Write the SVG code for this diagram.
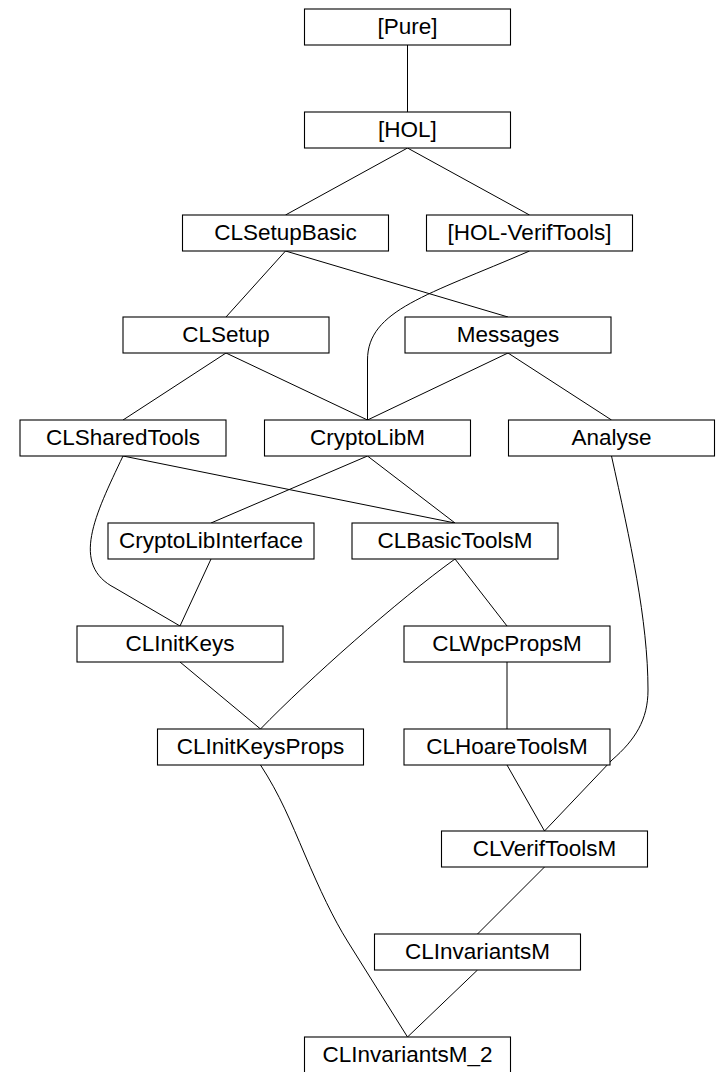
<svg xmlns="http://www.w3.org/2000/svg" width="720" height="1072" viewBox="0 0 720 1072">
  <style>
    .edge { fill: none; stroke: #000; stroke-width: 1; }
    .node rect { fill: #fff; stroke: #000; stroke-width: 1.1; }
    .node text { font-family: "Liberation Sans", Arial, sans-serif; font-size: 22.5px; fill: #000; text-anchor: middle; }
  </style>
  <rect x="0" y="0" width="720" height="1072" fill="#fff"/>

  <g id="edges">
    <path class="edge" d="M407.5,45 L407.5,112"/>
    <path class="edge" d="M407.5,148 L285.5,215"/>
    <path class="edge" d="M407.5,148 L529.5,215"/>
    <path class="edge" d="M285.5,251 L226,317"/>
    <path class="edge" d="M285.5,251 L508,317"/>
    <path class="edge" d="M529.5,251 C428,295 367.5,310 367.5,360 L367.5,420"/>
    <path class="edge" d="M226,353 L123,420"/>
    <path class="edge" d="M226,353 L367.5,420"/>
    <path class="edge" d="M508,353 L367.5,420"/>
    <path class="edge" d="M508,353 L611.5,420"/>
    <path class="edge" d="M123,456 C95,515 70,565 115,588 L180,626"/>
    <path class="edge" d="M123,456 L455,523"/>
    <path class="edge" d="M367.5,456 L211,523"/>
    <path class="edge" d="M367.5,456 L455,523"/>
    <path class="edge" d="M211,559 L180,626"/>
    <path class="edge" d="M455,559 C398,600 308,680 260.5,729"/>
    <path class="edge" d="M455,559 L507,626"/>
    <path class="edge" d="M180,662 L260.5,729"/>
    <path class="edge" d="M507,662 L507,729"/>
    <path class="edge" d="M611.5,456 C630,540 648,620 648,690 C648,720 635,740 612,760 L544.5,831"/>
    <path class="edge" d="M507,765 L544.5,831"/>
    <path class="edge" d="M260.5,765 C280,795 290,820 305,855 C320,890 333,918 348,942 L407.5,1037"/>
    <path class="edge" d="M544.5,867 L477.5,934"/>
    <path class="edge" d="M477.5,970 L407.5,1037"/>
  </g>

  <g id="n-pure" class="node"><rect x="304.5" y="9" width="206" height="36"/><text x="407.5" y="34">[Pure]</text></g>
  <g id="n-hol" class="node"><rect x="304.5" y="112" width="206" height="36"/><text x="407.5" y="137">[HOL]</text></g>
  <g id="n-clsetupbasic" class="node"><rect x="182.5" y="215" width="206" height="36"/><text x="285.5" y="240">CLSetupBasic</text></g>
  <g id="n-hol-veriftools" class="node"><rect x="426.5" y="215" width="206" height="36"/><text x="529.5" y="240">[HOL-VerifTools]</text></g>
  <g id="n-clsetup" class="node"><rect x="123" y="317" width="206" height="36"/><text x="226" y="342">CLSetup</text></g>
  <g id="n-messages" class="node"><rect x="405" y="317" width="206" height="36"/><text x="508" y="342">Messages</text></g>
  <g id="n-clsharedtools" class="node"><rect x="20" y="420" width="206" height="36"/><text x="123" y="445">CLSharedTools</text></g>
  <g id="n-cryptolibm" class="node"><rect x="264.5" y="420" width="206" height="36"/><text x="367.5" y="445">CryptoLibM</text></g>
  <g id="n-analyse" class="node"><rect x="508.5" y="420" width="206" height="36"/><text x="611.5" y="445">Analyse</text></g>
  <g id="n-cryptolibinterface" class="node"><rect x="108" y="523" width="206" height="36"/><text x="211" y="548">CryptoLibInterface</text></g>
  <g id="n-clbasictoolsm" class="node"><rect x="352" y="523" width="206" height="36"/><text x="455" y="548">CLBasicToolsM</text></g>
  <g id="n-clinitkeys" class="node"><rect x="77" y="626" width="206" height="36"/><text x="180" y="651">CLInitKeys</text></g>
  <g id="n-clwpcpropsm" class="node"><rect x="404" y="626" width="206" height="36"/><text x="507" y="651">CLWpcPropsM</text></g>
  <g id="n-clinitkeysprops" class="node"><rect x="157.5" y="729" width="206" height="36"/><text x="260.5" y="754">CLInitKeysProps</text></g>
  <g id="n-clhoaretoolsm" class="node"><rect x="404" y="729" width="206" height="36"/><text x="507" y="754">CLHoareToolsM</text></g>
  <g id="n-clveriftoolsm" class="node"><rect x="441.5" y="831" width="206" height="36"/><text x="544.5" y="856">CLVerifToolsM</text></g>
  <g id="n-clinvariantsm" class="node"><rect x="374.5" y="934" width="206" height="36"/><text x="477.5" y="959">CLInvariantsM</text></g>
  <g id="n-clinvariantsm-2" class="node"><rect x="304.5" y="1037" width="206" height="36"/><text x="407.5" y="1062">CLInvariantsM_2</text></g>
</svg>
